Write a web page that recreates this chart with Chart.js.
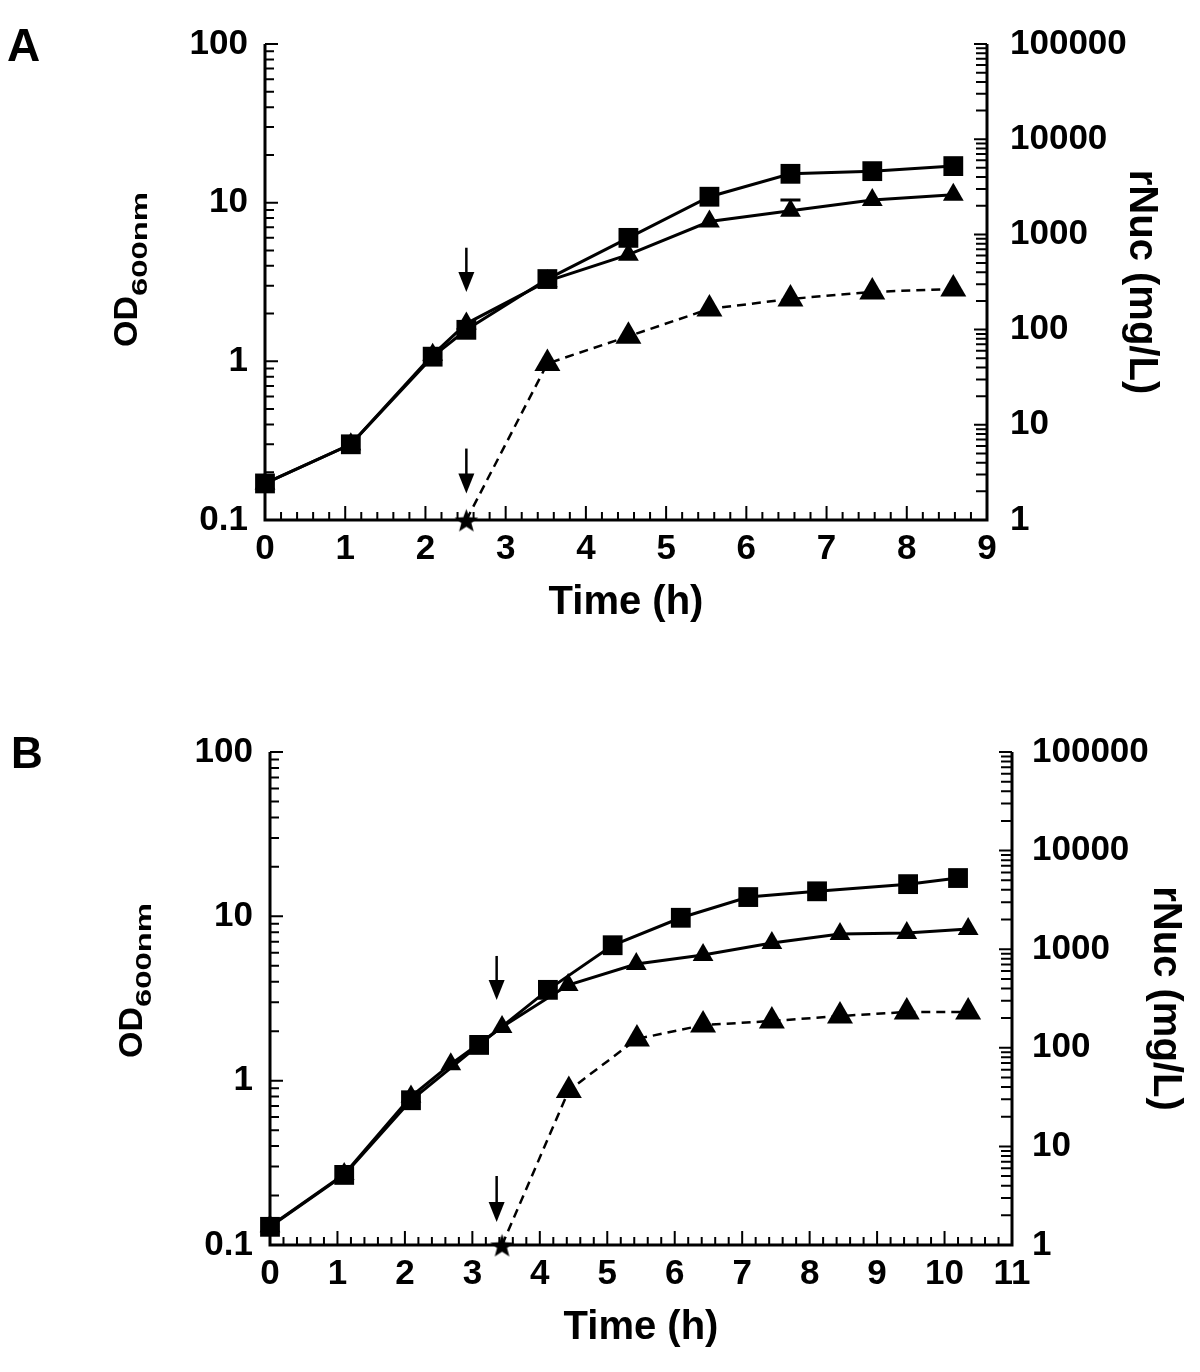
<!DOCTYPE html>
<html>
<head>
<meta charset="utf-8">
<script src="https://cdn.jsdelivr.net/npm/chart.js@4.4.1/dist/chart.umd.min.js"></script>
<style>
  html, body { margin: 0; padding: 0; background: #fff; }
  .panel { position: absolute; left: 0; width: 1200px; height: 686px; }
</style>
</head>
<body>
<div class="panel" style="top:0"><canvas id="chartA" width="1200" height="686"></canvas></div>
<div class="panel" style="top:686px"><canvas id="chartB" width="1200" height="686"></canvas></div>
<script>
const FONT = "'Liberation Sans', Arial, Helvetica, sans-serif";

// tick labels
const odTicks = [0.1, 1, 10, 100];
const nucTicks = [1, 10, 100, 1000, 10000, 100000];

// panel A
const timeA = [0, 1.07, 2.09, 2.51, 3.52, 4.53, 5.54, 6.55, 7.57, 8.58];
const odSquaresA = [0.17, 0.30, 1.07, 1.58, 3.30, 6.0, 10.9, 15.2, 15.8, 17.0];
const odTrianglesA = [0.17, 0.30, 1.10, 1.73, 3.2, 4.7, 7.6, 8.9, 10.4, 11.2];
const errUpTrianglesA = [0, 0, 0, 0, 0, 0, 0, 1.5, 0, 0];
const timeNucA = [2.51, 3.52, 4.53, 5.54, 6.55, 7.57, 8.58];
const nucA = [1, 44, 85, 165, 210, 249, 267];
const arrowsA = [[2.51, 5.2, 2.74], [2.51, 0.282, 0.147]];

// panel B
const timeSquaresB = [0, 1.1, 2.09, 3.1, 4.12, 5.08, 6.09, 7.09, 8.11, 9.46, 10.2];
const odSquaresB = [0.129, 0.267, 0.76, 1.65, 3.57, 6.67, 9.8, 13.1, 14.2, 15.7, 17.1];
const timeTrianglesB = [0, 1.1, 2.09, 2.68, 3.44, 4.42, 5.43, 6.42, 7.44, 8.45, 9.44, 10.35];
const odTrianglesB = [0.13, 0.27, 0.80, 1.26, 2.12, 3.82, 5.13, 5.82, 6.89, 7.81, 7.92, 8.38];
const timeNucB = [3.44, 4.43, 5.44, 6.42, 7.44, 8.45, 9.44, 10.35];
const nucB = [1, 37, 123, 170, 187, 210, 231, 231];
const arrowsB = [[3.36, 5.74, 3.1], [3.36, 0.263, 0.138]];

function makeStar(size) {
    const c = document.createElement('canvas');
    c.width = size; c.height = size;
    const g = c.getContext('2d');
    const cx = size / 2, cy = size / 2 + 1.5, R = size / 2, r = R * 0.42;
    g.beginPath();
    for (let i = 0; i < 10; i++) {
        const ang = -Math.PI / 2 + i * Math.PI / 5;
        const rad = i % 2 ? r : R;
        g.lineTo(cx + rad * Math.cos(ang), cy + rad * Math.sin(ang));
    }
    g.closePath();
    g.fillStyle = '#000';
    g.fill();
    return c;
}
const star = makeStar(25);

// axis lines + inward ticks, error bars, arrows, letter and OD title
const decorPlugin = {
    id: 'decor',
    beforeDatasetsDraw(chart, args, opts) {
        const { ctx, chartArea: a, scales } = chart;
        ctx.save();
        ctx.strokeStyle = '#000';
        ctx.lineWidth = 3;
        ctx.beginPath();
        ctx.moveTo(a.left, a.top);
        ctx.lineTo(a.left, a.bottom);
        ctx.lineTo(a.right, a.bottom);
        ctx.lineTo(a.right, a.top);
        ctx.stroke();

        ctx.lineWidth = 2;
        ctx.beginPath();
        // left log ticks
        for (let d = 0.1; d < 100; d *= 10) {
            for (let k = 1; k <= 10; k++) {
                const y = scales.y.getPixelForValue(k * d);
                const len = (k === 1 || k === 10) ? 13 : 9;
                ctx.moveTo(a.left, y); ctx.lineTo(a.left + len, y);
            }
        }
        // right log ticks
        for (let d = 1; d < 100000; d *= 10) {
            for (let k = 1; k <= 10; k++) {
                const y = scales.y2.getPixelForValue(k * d);
                const len = (k === 1 || k === 10) ? 13 : 11;
                ctx.moveTo(a.right, y); ctx.lineTo(a.right - len, y);
            }
        }
        // x ticks
        const xmax = scales.x.max;
        for (let i = 0; i <= xmax * 5; i++) {
            const x = scales.x.getPixelForValue(i / 5);
            const len = i % 5 === 0 ? 14 : 8;
            ctx.moveTo(x, a.bottom); ctx.lineTo(x, a.bottom - len);
        }
        ctx.stroke();

        // error bars (upper part, the lower one hides under the marker)
        (opts.errors || []).forEach(e => {
            const ds = chart.data.datasets[e.dataset];
            ds.data.forEach((p, i) => {
                const err = e.values[i];
                if (!err) return;
                const x = scales.x.getPixelForValue(p.x);
                const y0 = scales.y.getPixelForValue(p.y);
                const y1 = scales.y.getPixelForValue(p.y + err);
                ctx.lineWidth = 3;
                ctx.beginPath();
                ctx.moveTo(x, y0); ctx.lineTo(x, y1);
                ctx.moveTo(x - 10, y1); ctx.lineTo(x + 10, y1);
                ctx.stroke();
            });
        });

        // arrows
        ctx.fillStyle = '#000';
        (opts.arrows || []).forEach(([t, from, to]) => {
            const x = scales.x.getPixelForValue(t);
            const y1 = scales.y.getPixelForValue(from);
            const y2 = scales.y.getPixelForValue(to);
            ctx.lineWidth = 2.5;
            ctx.beginPath();
            ctx.moveTo(x, y1); ctx.lineTo(x, y2 - 16);
            ctx.stroke();
            ctx.beginPath();
            ctx.moveTo(x - 8, y2 - 20);
            ctx.lineTo(x + 8, y2 - 20);
            ctx.lineTo(x, y2);
            ctx.closePath();
            ctx.fill();
        });
        ctx.restore();
    },
    afterDraw(chart, args, opts) {
        const { ctx } = chart;
        ctx.save();
        ctx.fillStyle = '#000';
        // panel letter
        ctx.font = `bold ${opts.letter.size}px ${FONT}`;
        ctx.textBaseline = 'alphabetic';
        ctx.textAlign = 'left';
        ctx.fillText(opts.letter.text, opts.letter.x, opts.letter.y);
        // rotated OD600nm title
        const o = opts.od;
        ctx.translate(o.x, o.y);
        ctx.rotate(-Math.PI / 2);
        ctx.font = `bold 34px ${FONT}`;
        ctx.fillText('OD', 0, 0);
        const odW = ctx.measureText('OD').width;
        ctx.font = `bold 22px ${FONT}`;
        const subW = ctx.measureText('600nm').width;
        ctx.translate(odW, o.subDy);
        ctx.scale(o.subLen / subW, 1);
        ctx.fillText('600nm', 0, 0);
        ctx.restore();
    }
};

function pts(xs, ys) {
    return xs.map((x, i) => ({ x: x, y: ys[i] }));
}

function makeChart(id, c) {
    const tickFont = { family: FONT, size: 35, weight: 'bold' };
    const titleFont = { family: FONT, size: 40, weight: 'bold' };
    const noGrid = { display: false, drawTicks: false };
    new Chart(document.getElementById(id), {
        type: 'line',
        data: {
            datasets: [{
                data: pts(c.sqX, c.sqY),
                yAxisID: 'y',
                borderColor: '#000',
                borderWidth: 3,
                backgroundColor: '#000',
                pointStyle: 'rect',
                pointRadius: 14,
                pointBorderWidth: 0,
                clip: false
            }, {
                data: pts(c.triX, c.triY),
                yAxisID: 'y',
                borderColor: '#000',
                borderWidth: 3,
                backgroundColor: '#000',
                pointStyle: 'triangle',
                pointRadius: 12,
                pointBorderWidth: 0,
                clip: false
            }, {
                data: pts(c.nucX, c.nucY),
                yAxisID: 'y2',
                borderColor: '#000',
                borderWidth: 2.5,
                borderDash: [9, 6],
                backgroundColor: '#000',
                pointStyle: c.nucX.map((x, i) => i === 0 ? star : 'triangle'),
                pointRadius: 15,
                pointBorderWidth: 0,
                clip: false
            }]
        },
        options: {
            responsive: false,
            animation: false,
            layout: { padding: c.pad },
            plugins: {
                legend: { display: false },
                tooltip: { enabled: false },
                decor: { arrows: c.arrows, errors: c.errors, letter: c.letter, od: c.od }
            },
            scales: {
                x: {
                    type: 'linear',
                    min: 0,
                    max: c.xmax,
                    grid: noGrid,
                    border: { display: false },
                    afterBuildTicks: s => { s.ticks = Array.from({ length: c.xmax + 1 }, (_, i) => ({ value: i })); },
                    afterFit: s => { s.height = 107; },
                    ticks: { font: tickFont, color: '#000', padding: 8, maxRotation: 0, autoSkip: false },
                    title: { display: true, text: 'Time (h)', font: titleFont, color: '#000', padding: 0 }
                },
                y: {
                    type: 'logarithmic',
                    position: 'left',
                    min: 0.1,
                    max: 100,
                    grid: noGrid,
                    border: { display: false },
                    afterBuildTicks: s => { s.ticks = odTicks.map(v => ({ value: v })); },
                    afterFit: s => { s.width = c.leftW; },
                    ticks: { font: tickFont, color: '#000', padding: 17, callback: v => String(v) }
                },
                y2: {
                    type: 'logarithmic',
                    position: 'right',
                    min: 1,
                    max: 100000,
                    grid: noGrid,
                    border: { display: false },
                    afterBuildTicks: s => { s.ticks = nucTicks.map(v => ({ value: v })); },
                    afterFit: s => { s.width = c.rightW; },
                    ticks: { font: tickFont, color: '#000', padding: c.rightPad, callback: v => String(v) },
                    title: { display: true, text: 'rNuc (mg/L)', font: titleFont, color: '#000', padding: 0 }
                }
            }
        },
        plugins: [decorPlugin]
    });
}

makeChart('chartA', {
    sqX: timeA, sqY: odSquaresA,
    triX: timeA, triY: odTrianglesA,
    nucX: timeNucA, nucY: nucA,
    xmax: 9,
    pad: { left: 0, right: 35, top: 40, bottom: 59 },
    leftW: 265, rightW: 178, rightPad: 23,
    arrows: arrowsA,
    errors: [{ dataset: 1, values: errUpTrianglesA }],
    letter: { text: 'A', size: 46, x: 7, y: 61 },
    od: { x: 137, y: 347, subDy: 10, subLen: 104 }
});

makeChart('chartB', {
    sqX: timeSquaresB, sqY: odSquaresB,
    triX: timeTrianglesB, triY: odTrianglesB,
    nucX: timeNucB, nucY: nucB,
    xmax: 11,
    pad: { left: 0, right: 11, top: 66, bottom: 20 },
    leftW: 270, rightW: 177, rightPad: 20,
    arrows: arrowsB,
    errors: [],
    letter: { text: 'B', size: 44, x: 11, y: 82 },
    od: { x: 142, y: 372, subDy: 9, subLen: 104 }
});
</script>
</body>
</html>
